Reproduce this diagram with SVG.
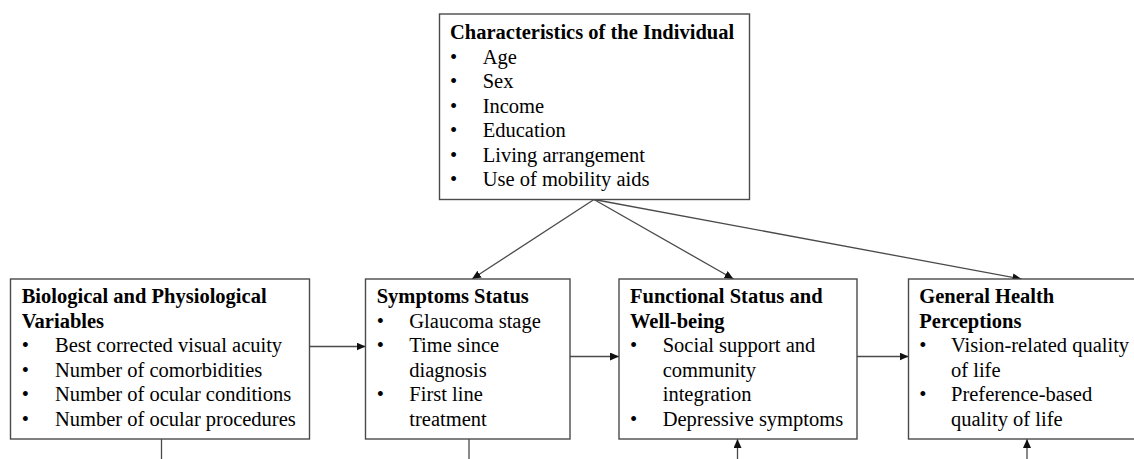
<svg xmlns="http://www.w3.org/2000/svg" width="1134" height="459" viewBox="0 0 1134 459">
  <style>
    .box { fill: #fff; stroke: #4a4a4a; stroke-width: 1.4; }
    text { font-family: "Liberation Serif", "Times New Roman", serif; font-size: 20.5px; fill: #000; }
    .title { font-weight: bold; }
    .edge { fill: none; stroke: #4a4a4a; stroke-width: 1.3; }
  </style>
  <defs>
    <marker id="arrow" markerUnits="userSpaceOnUse" markerWidth="9" markerHeight="8" refX="9" refY="4" orient="auto">
      <path d="M0,0 L9,4 L0,8 z" fill="#111"/>
    </marker>
  </defs>

  <rect width="1134" height="459" fill="#fff"/>

  <!-- connectors -->
  <g id="connectors">
    <path class="edge" d="M594,199.5 L472,279" marker-end="url(#arrow)"/>
    <path class="edge" d="M594,199.5 L733.5,279" marker-end="url(#arrow)"/>
    <path class="edge" d="M594,199.5 L1021.5,279" marker-end="url(#arrow)"/>
    <path class="edge" d="M309.5,346.5 H365.5" marker-end="url(#arrow)"/>
    <path class="edge" d="M570,356.5 H619" marker-end="url(#arrow)"/>
    <path class="edge" d="M857,356.5 H908.5" marker-end="url(#arrow)"/>
    <path class="edge" d="M161.5,439 V459"/>
    <path class="edge" d="M469,439 V459"/>
    <path class="edge" d="M737.5,459 V439" marker-end="url(#arrow)"/>
    <path class="edge" d="M1027,459 V439" marker-end="url(#arrow)"/>
  </g>

  <!-- individual characteristics -->
  <g id="characteristics">
    <rect class="box" x="439.5" y="14" width="310" height="185.5"/>
    <text class="title" x="450" y="39">Characteristics of the Individual</text>
    <text x="450" y="63.5">•</text><text x="482.7" y="63.5">Age</text>
    <text x="450" y="88">•</text><text x="482.7" y="88">Sex</text>
    <text x="450" y="112.5">•</text><text x="482.7" y="112.5">Income</text>
    <text x="450" y="137">•</text><text x="482.7" y="137">Education</text>
    <text x="450" y="161.5">•</text><text x="482.7" y="161.5">Living arrangement</text>
    <text x="450" y="186">•</text><text x="482.7" y="186">Use of mobility aids</text>
  </g>

  <!-- biological and physiological variables -->
  <g id="biological">
    <rect class="box" x="10.5" y="279" width="299" height="160"/>
    <text class="title" x="21.7" y="303.3">Biological and Physiological</text>
    <text class="title" x="21.7" y="327.8">Variables</text>
    <text x="21.7" y="352.3">•</text><text x="55" y="352.3">Best corrected visual acuity</text>
    <text x="21.7" y="376.8">•</text><text x="55" y="376.8">Number of comorbidities</text>
    <text x="21.7" y="401.3">•</text><text x="55" y="401.3">Number of ocular conditions</text>
    <text x="21.7" y="425.8">•</text><text x="55" y="425.8">Number of ocular procedures</text>
  </g>

  <!-- symptoms status -->
  <g id="symptoms">
    <rect class="box" x="365.5" y="279" width="204.5" height="160"/>
    <text class="title" x="376.7" y="303.3">Symptoms Status</text>
    <text x="376.7" y="327.8">•</text><text x="409.3" y="327.8">Glaucoma stage</text>
    <text x="376.7" y="352.3">•</text><text x="409.3" y="352.3">Time since</text>
    <text x="409.3" y="376.8">diagnosis</text>
    <text x="376.7" y="401.3">•</text><text x="409.3" y="401.3">First line</text>
    <text x="409.3" y="425.8">treatment</text>
  </g>

  <!-- functional status and well-being -->
  <g id="functional">
    <rect class="box" x="619" y="279" width="238" height="160"/>
    <text class="title" x="630" y="303.3">Functional Status and</text>
    <text class="title" x="630" y="327.8">Well-being</text>
    <text x="630" y="352.3">•</text><text x="662.7" y="352.3">Social support and</text>
    <text x="662.7" y="376.8">community</text>
    <text x="662.7" y="401.3">integration</text>
    <text x="630" y="425.8">•</text><text x="662.7" y="425.8">Depressive symptoms</text>
  </g>

  <!-- general health perceptions -->
  <g id="health">
    <rect class="box" x="908.5" y="279" width="240" height="160"/>
    <text class="title" x="919.3" y="303.3">General Health</text>
    <text class="title" x="919.3" y="327.8">Perceptions</text>
    <text x="919.3" y="352.3">•</text><text x="951" y="352.3">Vision-related quality</text>
    <text x="951" y="376.8">of life</text>
    <text x="919.3" y="401.3">•</text><text x="951" y="401.3">Preference-based</text>
    <text x="951" y="425.8">quality of life</text>
  </g>
</svg>
